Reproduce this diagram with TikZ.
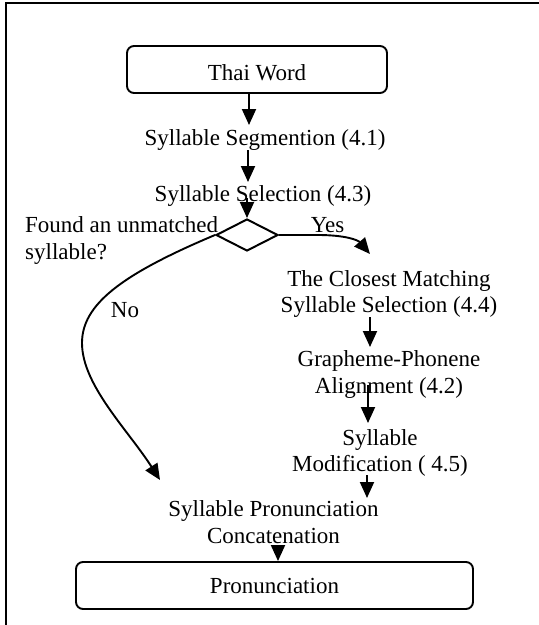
\documentclass[tikz,border=0pt]{standalone}
\usepackage{fontspec}
\setmainfont{Liberation Serif}
\usetikzlibrary{arrows.meta,shapes.geometric}
\begin{document}
\begin{tikzpicture}[x=1pt,y=-1pt,
  every node/.style={font=\fontsize{23}{26.5}\selectfont, inner sep=0pt},
  txt/.style={align=center, anchor=base},
  box/.style={draw, rounded corners=7pt, line width=1.9pt},
  arr/.style={line width=1.9pt, -{Triangle[length=16pt,width=14pt]}},
  frame/.style={line width=2.5pt}]
\useasboundingbox (0,0) rectangle (539,625);
\draw[frame] (6,630) -- (6,3) -- (545,3);

\node[box, minimum width=260pt, minimum height=47pt, text height=21pt, text depth=0pt] (thai) at (257,69.5) {Thai Word};
\node[txt] (seg) at (265,145) {Syllable Segmention (4.1)};
\node[txt] (sel) at (263,201) {Syllable Selection (4.3)};
\node[diamond, draw, line width=2pt, minimum width=62pt, minimum height=32pt, aspect=1.94] (dec) at (247,235) {};
\node[anchor=base west, align=left] (found) at (25,259) {Found an unmatched\\syllable?};
\node[txt] (yes) at (327.5,232) {Yes};
\node[txt] (close) at (389,312.7) {The Closest Matching\\Syllable Selection (4.4)};
\node[txt] (graph) at (389,393) {Grapheme-Phonene\\Alignment (4.2)};
\node[txt] (mod) at (380,471.7) {Syllable\\Modification ( 4.5)};
\node[txt] (conc) at (273.5,543) {Syllable Pronunciation\\Concatenation};
\node[txt] (no) at (125,317) {No};
\node[box, minimum width=397pt, minimum height=47pt, text height=15pt, text depth=0pt] (pron) at (274.5,585.5) {Pronunciation};

\coordinate (t1) at (249,125);
\coordinate (s2) at (248,150);
\coordinate (t2) at (248,182);
\coordinate (s3) at (247,198);
\coordinate (t4) at (370,254);
\coordinate (s5) at (370,317);
\coordinate (t5) at (370,347);
\coordinate (s6) at (368,385);
\coordinate (t6) at (368,423);
\coordinate (s7) at (367,475);
\coordinate (t7) at (367,498);
\coordinate (s8) at (278,545);
\coordinate (t9) at (160,480);

\draw[arr] (thai.south -| t1) -- (t1);
\draw[arr] (s2) -- (t2);
\draw[arr] (s3) -- (dec.north);
\draw[arr] (dec.east) -- (318,235) .. controls (345,235) and (358,240) .. (t4);
\draw[arr] (s5) -- (t5);
\draw[arr] (s6) -- (t6);
\draw[arr] (s7) -- (t7);
\draw[arr] (s8) -- (pron.north -| s8);
\draw[arr] (dec.west) .. controls (120,275) and (82,305) .. (82,343) .. controls (82,385) and (128,430) .. (t9);
\end{tikzpicture}
\end{document}
